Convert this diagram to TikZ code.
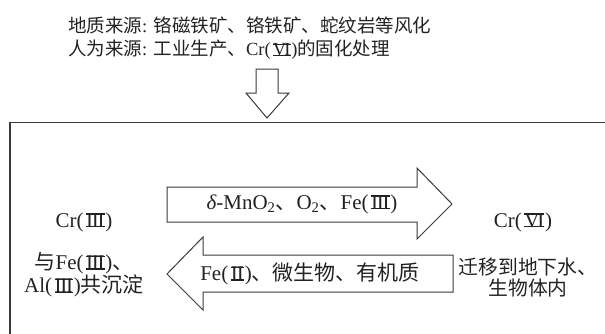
\documentclass[tikz,border=0pt]{standalone}
\usepackage{fontspec}
\setmainfont{Liberation Serif}
\newfontfamily\cjk{Noto Sans CJK SC}
% Roman numeral glyphs with top and bottom bars, as in the reference
\newcommand{\barred}[1]{\setbox0\hbox{#1}\leavevmode\hbox to\wd0{\rlap{\rule[0pt]{\wd0}{0.06em}}\rlap{\rule[\dimexpr\ht0-0.06em\relax]{\wd0}{0.06em}}\box0\hss}}
\newcommand{\rIII}{\kern0.12em\barred{I\kern-0.06em I\kern-0.06em I}\kern0.04em}
\newcommand{\rVI}{\kern0.12em\barred{V\kern-0.1em I}\kern0.04em}
\newcommand{\rII}{\kern0.12em\barred{I\kern-0.04em I}\kern0.04em}
\definecolor{ink}{HTML}{222222}
\definecolor{edge}{HTML}{3A3A3A}
\tikzset{
  toptext/.style={anchor=west, inner sep=0pt, text=ink, font=\fontsize{18.5}{22}\selectfont},
  lbl/.style={inner sep=0pt, text=ink, align=center, font=\fontsize{21}{21}\selectfont},
  fatarrow/.style={draw=edge, line width=1pt, fill=white, line join=miter},
  frame/.style={draw=edge, line width=1.3pt}
}
\begin{document}
\begin{tikzpicture}[x=1pt,y=-1pt]
\useasboundingbox (0,0) rectangle (605,333);
% source texts
\node[toptext] (src1) at (68,25) {{\cjk 地质来源}: {\cjk 铬磁铁矿、铬铁矿、蛇纹岩等风化}};
\node[toptext] (src2) at (68,50) {{\cjk 人为来源}: {\cjk 工业生产、}Cr(\rVI){\cjk 的固化处理}};
% down arrow
\draw[fatarrow] (256,69) -- (278,69) -- (278,93) -- (289,93) -- (267,118) -- (246,93) -- (256,93) -- cycle;
% frame (open to right and bottom)
\draw[frame] (10,334) -- (10,122.5) -- (606,122.5);
% oxidation arrow (right)
\draw[fatarrow] (167,187) -- (417,187) -- (417,168) -- (452,204) -- (417,239) -- (417,222) -- (167,222) -- cycle;
% reduction arrow (left)
\draw[fatarrow] (167,274) -- (203,237) -- (203,255) -- (453,255) -- (453,292) -- (203,292) -- (203,310) -- cycle;
% labels
\node[lbl] (ox) at (302,204) {{\itshape δ}-MnO\textsubscript{2}{\cjk 、}O\textsubscript{2}{\cjk 、}Fe(\rIII)};
\node[lbl] (red) at (310,274) {Fe(\rII){\cjk 、微生物、有机质}};
\node[lbl] (cr3) at (84,222) {Cr(\rIII)};
\node[lbl] (cop) at (84,275) {{\cjk 与}Fe(\rIII){\cjk 、}\\Al(\rIII){\cjk 共沉淀}};
\node[lbl] (cr6) at (523,222) {Cr(\rVI)};
\node[lbl, font=\fontsize{19.8}{21}\selectfont] (mig) at (528,277) {{\cjk 迁移到地下水、}\\{\cjk 生物体内}};
\end{tikzpicture}
\end{document}
